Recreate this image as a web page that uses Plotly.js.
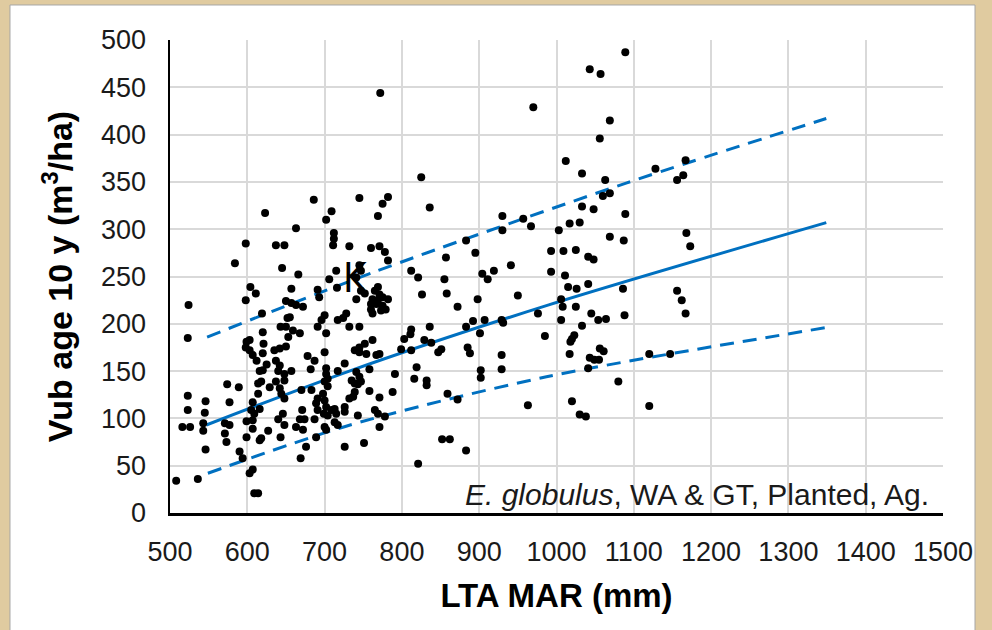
<!DOCTYPE html>
<html>
<head>
<meta charset="utf-8">
<script src="https://cdn.plot.ly/plotly-3.0.1.min.js"></script>
<style>html,body{margin:0;padding:0;background:#E0CBA0;}#chart{width:992px;height:630px;}</style>
</head>
<body>
<div id="chart"></div>
<script>
// Scatter data: LTA MAR (mm) vs Vub at age 10 y (m3/ha)
const mar = [
623,598,637,648,584,645,604,611,598,524,619,650,523,643,650,652,620,599,603,598,603,607,612,621,620,642,635,650,625,616,620,637,642,640,648,614,618,629,637,642,644,648,574,589,523,523,546,545,543,543,577,614,607,605,609,607,616,516,526,571,577,571,573,599,607,640,648,646,599,616,618,627,643,546,590,594,508,536,603,607,609,614,
686,709,702,663,712,712,711,732,666,715,706,716,657,691,693,657,663,672,655,659,668,653,700,696,691,702,717,724,728,678,687,682,700,657,702,702,704,700,704,717,726,670,683,648,691,689,691,698,700,702,699,704,709,713,715,671,668,674,663,672,687,702,700,713,717,676,689,669,726,
745,782,775,769,760,771,778,782,745,747,741,741,747,752,765,769,771,762,769,775,782,760,767,775,760,762,773,779,732,745,762,752,745,739,745,754,767,771,758,741,745,735,739,743,747,791,758,739,732,726,726,737,771,765,769,778,788,743,771,751,
772,825,836,930,930,957,967,970,883,895,857,941,812,821,855,904,919,911,858,826,872,898,950,976,985,803,812,811,836,829,838,812,799,847,851,819,816,832,832,883,892,901,907,931,929,885,888,929,929,902,902,859,872,963,852,862,883,821,
993,1011,1015,1026,1041,1086,1006,1008,1025,1006,1045,1054,1064,1088,1033,1023,1020,1018,1017,1056,1061,1043,1049,1055,1041,1080,1020,1030,1038,1120,1147,1120,1156,1162,1167,1089,1043,1057,1069,1056,1012,1033,1063,1060,1069,1033,1048,1089,1003,1017,1030,1069,1087,993,1009,1025,1041,1048,1128,1167,1164,1156,1168,1173
];
const vub = [
317,285,283,283,264,259,239,232,225,220,211,224,185,197,197,206,191,181,183,175,172,167,161,179,169,174,172,176,157,150,151,161,156,150,147,137,139,133,139,132,126,140,136,133,124,109,118,106,95,87,117,126,117,109,105,98,110,91,91,95,93,84,75,97,89,99,93,105,80,77,79,87,80,67,65,58,34,36,42,46,21,21,
331,319,310,301,296,290,283,282,252,256,247,238,237,236,228,222,220,218,207,193,190,186,209,204,197,190,204,206,211,166,161,152,170,150,153,147,142,139,134,150,158,130,130,121,121,116,109,126,119,112,105,103,109,110,105,109,99,99,91,88,99,88,91,96,93,70,80,58,70,
333,334,327,314,280,282,276,267,262,256,249,226,235,232,235,239,231,226,225,228,226,221,221,219,215,211,214,215,197,197,183,179,175,172,170,168,167,168,152,149,144,140,137,136,139,147,129,128,121,112,107,123,122,109,105,102,128,103,91,74,
444,355,323,314,299,311,303,429,288,275,270,262,256,249,247,253,256,247,232,231,218,226,230,211,187,184,194,189,197,183,180,172,173,170,173,154,142,140,135,197,203,190,204,201,204,175,169,167,152,151,143,126,120,114,78,78,66,52,
255,251,239,237,242,237,226,218,218,204,211,204,205,209,198,188,184,181,168,174,171,164,162,162,153,139,118,104,102,168,168,113,235,225,211,487,469,464,415,396,372,359,352,335,338,324,321,316,299,306,307,292,288,277,277,278,271,268,364,373,357,352,296,282
];

// Fitted curve and dashed bounds
const fitX = [547, 732, 990, 1349];
const fitY = [93, 150, 220, 307];
const upperX = [548, 765, 1091, 1349];
const upperY = [186, 255, 349, 417];
const lowerX = [549, 733, 987, 1349];
const lowerY = [42, 93, 144, 196];

const xTicks = [500,600,700,800,900,1000,1100,1200,1300,1400,1500];
const yTicks = [0,50,100,150,200,250,300,350,400,450,500];

const blue = '#0070C0';
const font = 'Liberation Sans, Arial, sans-serif';

const traces = [
  {x: upperX, y: upperY, mode: 'lines', line: {color: blue, width: 3, dash: '14px,9px', shape: 'spline', smoothing: 0.8}, hoverinfo: 'skip'},
  {x: lowerX, y: lowerY, mode: 'lines', line: {color: blue, width: 3, dash: '14px,9px', shape: 'spline', smoothing: 0.8}, hoverinfo: 'skip'},
  {x: fitX, y: fitY, mode: 'lines', line: {color: blue, width: 3, shape: 'spline', smoothing: 0.8}, hoverinfo: 'skip'},
  {x: mar, y: vub, mode: 'markers', marker: {color: '#000000', size: 8}}
];

const layout = {
  width: 992, height: 630,
  margin: {l: 170, r: 49, t: 40, b: 117},
  paper_bgcolor: '#E0CBA0',
  plot_bgcolor: '#FFFFFF',
  showlegend: false,
  font: {family: font, color: '#000000'},
  xaxis: {
    range: [500, 1500], tickmode: 'array', tickvals: xTicks,
    showgrid: true, gridcolor: '#D9D9D9', gridwidth: 2,
    showline: true, linecolor: '#000000', linewidth: 2.5,
    zeroline: false, ticks: '', ticklabelstandoff: 13,
    tickfont: {family: font, size: 27, color: '#1a1a1a'},
    title: {text: 'LTA MAR (mm)', standoff: 18, font: {family: font, size: 33, color: '#000000', weight: 'bold'}}
  },
  yaxis: {
    range: [0, 500], tickmode: 'array', tickvals: yTicks,
    showgrid: true, gridcolor: '#D9D9D9', gridwidth: 2,
    showline: true, linecolor: '#000000', linewidth: 2.5,
    zeroline: false, ticks: '', ticklabelstandoff: 16,
    tickfont: {family: font, size: 27, color: '#1a1a1a'},
    title: {text: 'Vub age 10 y (m<sup>3</sup>/ha)', standoff: 18, font: {family: font, size: 34, color: '#000000', weight: 'bold'}}
  },
  shapes: [
    {type: 'rect', xref: 'paper', yref: 'paper', x0: -0.207, x1: 1.0414, y0: -0.26, y1: 1.074,
     fillcolor: '#FFFFFF', line: {color: '#A6A6A6', width: 1}, layer: 'below'},
    {type: 'rect', xref: 'paper', yref: 'paper', x0: 0.381, x1: 0.997, y0: 0.002, y1: 0.097,
     fillcolor: '#FFFFFF', line: {width: 0}, layer: 'between'}
  ],
  annotations: [
    {xref: 'paper', yref: 'paper', x: 0.984, y: 0.039, xanchor: 'right', yanchor: 'middle',
     text: '<i>E. globulus</i>, WA &amp; GT, Planted, Ag.', showarrow: false, font: {family: font, size: 30, color: '#1a1a1a'}},
    {xref: 'x', yref: 'y', x: 740, y: 248, xanchor: 'center', yanchor: 'middle',
     text: 'K', showarrow: false, font: {family: 'DejaVu Sans Condensed, Liberation Sans Narrow, Arial', size: 40, color: '#000000', weight: 300}}
  ]
};

Plotly.newPlot('chart', traces, layout, {staticPlot: true, displayModeBar: false});
</script>
</body>
</html>
